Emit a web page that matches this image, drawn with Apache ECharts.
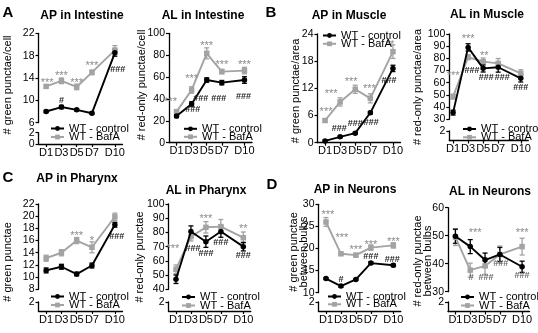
<!DOCTYPE html>
<html>
<head>
<meta charset="utf-8">
<script src="https://cdn.jsdelivr.net/npm/echarts@6/dist/echarts.min.js"></script>
<style>
  html, body { margin: 0; padding: 0; background: #fff; }
  #chart { width: 538px; height: 333px; }
</style>
</head>
<body>
<div id="chart"></div>
<script>
// sampling days and their tick labels
var days = [1, 3, 5, 7, 10];
var dayLabels = ['D1', 'D3', 'D5', 'D7', 'D10'];
var seriesNames = ['WT - control', 'WT - BafA'];

// A - AP in Intestine
var apIntCtrl = [8.0, 8.8, 8.3, 7.7, 18.5];
var apIntCtrlErr = [0.2, 0.3, 0.2, 0.2, 0.6];
var apIntBaf = [12.5, 13.5, 12.4, 15.0, 19.0];
var apIntBafErr = [0.3, 0.5, 0.5, 0.4, 0.8];
var apIntMarkB = ['***', '***', '***', '***', ''];
var apIntMarkC = ['', '#', '', '', '###'];

// A - AL in Intestine
var alIntCtrl = [24.4, 35.4, 57.3, 54.9, 57.3];
var alIntCtrlErr = [1.5, 2, 2, 2, 3];
var alIntBaf = [28.4, 48.2, 81.7, 65.0, 65.9];
var alIntBafErr = [1.5, 3, 5, 2, 3];
var alIntMarkB = ['***', '***', '***', '***', '***'];
var alIntMarkC = ['', '###', '###', '###', '###'];

// B - AP in Muscle
var apMusCtrl = [0.4, 1.3, 2.1, 6.6, 16.4];
var apMusCtrlErr = [0.2, 0.2, 0.2, 0.3, 0.7];
var apMusBaf = [4.9, 9.0, 11.8, 9.8, 20.1];
var apMusBafErr = [0.3, 0.9, 0.9, 1.0, 1.5];
var apMusMarkB = ['***', '***', '***', '***', '**'];
var apMusMarkC = ['', '###', '###', '###', '###'];

// B - AL in Muscle
var alMusCtrl = [35.5, 89.0, 71.8, 72.7, 63.6];
var alMusCtrlErr = [2, 3, 3, 4, 3];
var alMusBaf = [48.6, 80.9, 77.3, 75.9, 67.7];
var alMusBafErr = [2, 2, 3, 4, 3];
var alMusMarkB = ['***', '***', '**', '', ''];
var alMusMarkC = ['', '###', '###', '###', '###'];

// C - AP in Pharynx
var apPhCtrl = [11.1, 11.7, 10.5, 11.9, 18.6];
var apPhCtrlErr = [0.4, 0.4, 0.3, 0.4, 0.4];
var apPhBaf = [13.1, 14.0, 16.0, 14.9, 19.9];
var apPhBafErr = [0.5, 0.5, 0.5, 0.9, 0.6];
var apPhMarkB = ['', '', '***', '*', ''];
var apPhMarkC = ['', '', '', '', '###'];

// C - AL in Pharynx
var alPhCtrl = [47.1, 80.6, 73.5, 80.6, 70.0];
var alPhCtrlErr = [3, 4, 4, 4, 3];
var alPhBaf = [54.1, 77.0, 83.6, 84.1, 76.3];
var alPhBafErr = [3, 3, 4, 5, 4];
var alPhMarkB = ['***', '', '***', '', '**'];
var alPhMarkC = ['', '###', '###', '###', '###'];

// D - AP in Neurons
var apNeuCtrl = [13.2, 11.5, 13.0, 16.7, 16.2];
var apNeuCtrlErr = [0.2, 0.3, 0.2, 0.3, 0.3];
var apNeuBaf = [26.0, 18.8, 18.5, 20.2, 20.7];
var apNeuBafErr = [1.0, 0.3, 0.4, 0.6, 0.6];
var apNeuMarkB = ['***', '***', '***', '***', '***'];
var apNeuMarkC = ['', '#', '', '###', '###'];

// D - AL in Neurons
var alNeuCtrl = [49.8, 46.1, 41.3, 43.3, 38.9];
var alNeuCtrlErr = [2.5, 2.5, 2.5, 2.5, 2];
var alNeuBaf = [49.5, 37.7, 39.2, 43.3, 46.1];
var alNeuBafErr = [3, 2.5, 3, 3, 3];
var alNeuMarkB = ['', '#', '###', '###', '***'];
var alNeuMarkC = ['', '***', '', '', '###'];

var titles = ['AP in Intestine', 'AL in Intestine', 'AP in Muscle', 'AL in Muscle',
              'AP in Pharynx', 'AL in Pharynx', 'AP in Neurons', 'AL in Neurons'];
var yNames = ['# green punctae/cell', '# red-only punctae/cell', '# green punctae/area',
              '# red-only punctae/area', '# green punctae', '# red-only punctae',
              '# green punctae\nbetween bulbs', '# red-only punctae\nbetween bulbs'];
var letters = ['A', 'B', 'C', 'D'];

var FONT = "'Liberation Sans', Arial, sans-serif";
var GRAY = '#a3a3a3';
var STAR = '#8a8a8a';
var HASH = '#262626';

// legend: [icon left, centre y of first row, centre y of second row]
var panels = [
  { ctrl: apIntCtrl, ctrlErr: apIntCtrlErr, baf: apIntBaf, bafErr: apIntBafErr, markB: apIntMarkB, markC: apIntMarkC,
    grid: { left: 38.5, top: 33.3, width: 84, height: 89.4 }, lower: { top: 132.7, height: 11.3 },
    xMin: 0, yMin: 6, yMax: 22, yStep: 4, legend: [50, 127, 135.5], title: [82, 16], yName: [8, 85],
    offB: [[1, -3], [0, -5], [0, -4], [0, -6], [0, 0]], offC: [[0, 0], [0, -7], [0, 0], [0, 0], [3, 17]] },
  { ctrl: alIntCtrl, ctrlErr: alIntCtrlErr, baf: alIntBaf, bafErr: alIntBafErr, markB: alIntMarkB, markC: alIntMarkC,
    grid: { left: 169, top: 33.3, width: 83, height: 109.4 }, lower: null,
    xMin: 0, yMin: 0, yMax: 100, yStep: 20, legend: [183, 127.3, 135.3], title: [203, 16], yName: [142, 85],
    offB: [[-6, -10], [0, -11], [0, -7], [0, -7], [0, -6]], offC: [[0, 0], [1, 6], [-6, 19], [-3, 16], [-1, 17]] },
  { ctrl: apMusCtrl, ctrlErr: apMusCtrlErr, baf: apMusBaf, bafErr: apMusBafErr, markB: apMusMarkB, markC: apMusMarkC,
    grid: { left: 317.5, top: 34, width: 83, height: 108.7 }, lower: null,
    xMin: 0, yMin: 0, yMax: 24, yStep: 6, legend: [322, 34, 42.3], title: [349, 16], yName: [296, 91],
    offB: [[1, -9], [-9, -8], [-4, -7], [-1, -9], [-3, -7]], offC: [[0, 0], [-1, -8], [0, -10], [1, 10], [-4, 12]] },
  { ctrl: alMusCtrl, ctrlErr: alMusCtrlErr, baf: alMusBaf, bafErr: alMusBafErr, markB: alMusMarkB, markC: alMusMarkC,
    grid: { left: 449.3, top: 34, width: 79, height: 85.3 }, lower: { top: 131, height: 9.5 },
    xMin: 0.5, yMin: 30, yMax: 100, yStep: 10, legend: [462, 127.5, 135.8], title: [487, 15], yName: [418, 87],
    offB: [[0, -21], [0, -18], [1, -6], [0, 0], [0, 0]], offC: [[0, 0], [4, 23], [3, 9], [4, 10], [0, 9]] },
  { ctrl: apPhCtrl, ctrlErr: apPhCtrlErr, baf: apPhBaf, bafErr: apPhBafErr, markB: apPhMarkB, markC: apPhMarkC,
    grid: { left: 38.5, top: 204, width: 84, height: 85.3 }, lower: { top: 302, height: 9 },
    xMin: 0, yMin: 8, yMax: 22, yStep: 2, legend: [50, 295, 303.5], title: [77, 179], yName: [8, 262],
    offB: [[0, 0], [0, 0], [0, -5], [0, -6], [0, 0]], offC: [[0, 0], [0, 0], [0, 0], [0, 0], [2, 12]] },
  { ctrl: alPhCtrl, ctrlErr: alPhCtrlErr, baf: alPhBaf, bafErr: alPhBafErr, markB: alPhMarkB, markC: alPhMarkC,
    grid: { left: 168.5, top: 204, width: 82.3, height: 85.3 }, lower: { top: 302, height: 9 },
    xMin: 0, yMin: 40, yMax: 100, yStep: 10, legend: [181, 295.5, 304], title: [206, 191], yName: [140, 257],
    offB: [[-3, -20], [0, 0], [0, -8], [0, 0], [0, -9]], offC: [[0, 0], [2, 17], [0, 12], [0, 11], [0, 9]] },
  { ctrl: apNeuCtrl, ctrlErr: apNeuCtrlErr, baf: apNeuBaf, bafErr: apNeuBafErr, markB: apNeuMarkB, markC: apNeuMarkC,
    grid: { left: 318.5, top: 204.3, width: 82.3, height: 88.4 }, lower: { top: 302, height: 9 },
    xMin: 0, yMin: 10, yMax: 30, yStep: 5, legend: [327, 295, 302.8], title: [355, 190], yName: [299, 252],
    offB: [[2, -7], [1, -16], [0, -5], [0, -3], [0, -3]], offC: [[0, 0], [0, -7], [0, 0], [0, -7], [-1, -6]] },
  { ctrl: alNeuCtrl, ctrlErr: alNeuCtrlErr, baf: alNeuBaf, bafErr: alNeuBafErr, markB: alNeuMarkB, markC: alNeuMarkC,
    grid: { left: 448, top: 207.7, width: 81.5, height: 84 }, lower: { top: 302, height: 9.5 },
    xMin: 0, yMin: 30, yMax: 60, yStep: 10, legend: [460, 295.5, 304], title: [490, 192], yName: [423, 261],
    offB: [[0, 0], [1, 7], [1, 12], [1, 9], [0, -14]], offC: [[0, 0], [5, -14], [0, 0], [0, 0], [0, 9]],
    hashColor: '#6a6a6a' }
];
var letterPos = [[8, 12.5], [271, 13.3], [8, 177.5], [272, 185]];

function xAxisDef(gi, xMin, visible) {
  return {
    gridIndex: gi, type: 'value', min: xMin, max: 11, show: visible,
    axisLine: { lineStyle: { color: '#000', width: 1.3 } },
    axisTick: { customValues: days, length: 3, lineStyle: { color: '#000', width: 1.2 } },
    axisLabel: {
      customValues: days, margin: 3, color: '#000', fontSize: 11, fontFamily: FONT,
      formatter: function (v) { return dayLabels[days.indexOf(v)]; }
    },
    splitLine: { show: false }
  };
}

function yAxisDef(gi, min, max, step) {
  return {
    gridIndex: gi, type: 'value', min: min, max: max, interval: step,
    axisLine: { show: true, lineStyle: { color: '#000', width: 1.3 } },
    axisTick: { show: true, length: 3, lineStyle: { color: '#000', width: 1.2 } },
    axisLabel: { margin: 4, color: '#000', fontSize: 10.5, fontFamily: FONT },
    splitLine: { show: false }
  };
}

function pointData(values, marks, offs, hashColor) {
  return days.map(function (d, i) {
    var item = { value: [d, values[i]] };
    var t = marks[i];
    if (t) {
      var star = t.charAt(0) === '*';
      item.label = {
        show: true, position: 'inside', formatter: t, offset: offs[i],
        color: star ? STAR : (hashColor || HASH),
        fontSize: star ? 11 : 9, fontWeight: star ? 'normal' : 'bold', fontFamily: FONT
      };
    }
    return item;
  });
}

function errorSeries(gi, values, errs, color) {
  return {
    type: 'custom', xAxisIndex: gi, yAxisIndex: gi, silent: true, z: 1,
    data: days.map(function (d, i) { return [d, values[i], errs[i]]; }),
    renderItem: function (params, api) {
      var x = api.value(0), y = api.value(1), e = api.value(2);
      var a = api.coord([x, y + e]);
      var b = api.coord([x, y - e]);
      var w = 2.5;
      var st = { stroke: color, lineWidth: 1.3 };
      return {
        type: 'group',
        children: [
          { type: 'line', shape: { x1: a[0], y1: a[1], x2: b[0], y2: b[1] }, style: st },
          { type: 'line', shape: { x1: a[0] - w, y1: a[1], x2: a[0] + w, y2: a[1] }, style: st },
          { type: 'line', shape: { x1: b[0] - w, y1: b[1], x2: b[0] + w, y2: b[1] }, style: st }
        ]
      };
    }
  };
}

var grids = [], xAxes = [], yAxes = [], series = [], legends = [], graphics = [];

panels.forEach(function (p, k) {
  var gi = grids.length;
  grids.push({ left: p.grid.left, top: p.grid.top, width: p.grid.width, height: p.grid.height });
  xAxes.push(xAxisDef(gi, p.xMin, !p.lower));
  yAxes.push(yAxisDef(gi, p.yMin, p.yMax, p.yStep));
  if (p.lower) {
    grids.push({ left: p.grid.left, top: p.lower.top, width: p.grid.width, height: p.lower.height });
    xAxes.push(xAxisDef(gi + 1, p.xMin, true));
    yAxes.push(yAxisDef(gi + 1, 0, 2, 2));
  }

  series.push(errorSeries(gi, p.baf, p.bafErr, GRAY));
  series.push({
    type: 'line', name: seriesNames[1], xAxisIndex: gi, yAxisIndex: gi,
    data: pointData(p.baf, p.markB, p.offB, p.hashColor),
    symbol: 'rect', symbolSize: 5.5, itemStyle: { color: GRAY },
    lineStyle: { color: GRAY, width: 1.9 }, z: 2
  });
  series.push(errorSeries(gi, p.ctrl, p.ctrlErr, '#000'));
  series.push({
    type: 'line', name: seriesNames[0], xAxisIndex: gi, yAxisIndex: gi,
    data: pointData(p.ctrl, p.markC, p.offC, p.hashColor),
    symbol: 'circle', symbolSize: 5.5, itemStyle: { color: '#000' },
    lineStyle: { color: '#000', width: 1.9 }, z: 3
  });

  // one legend block per row so each row sits exactly where the figure has it
  seriesNames.forEach(function (nm, r) {
    legends.push({
      left: p.legend[0], top: p.legend[1 + r] - 4, orient: 'vertical', padding: 0,
      itemWidth: 13, itemHeight: 6, itemTextGap: 2, selectedMode: false,
      textStyle: { fontSize: 11, lineHeight: 8, color: '#000', fontFamily: FONT },
      data: [nm]
    });
  });

  graphics.push({
    type: 'text', x: p.title[0], y: p.title[1],
    style: { text: titles[k], font: 'bold 12px ' + FONT, fill: '#000', textAlign: 'center', textVerticalAlign: 'middle' }
  });
  graphics.push({
    type: 'text', x: p.yName[0], y: p.yName[1], rotation: Math.PI / 2,
    style: { text: yNames[k], font: '11px ' + FONT, fill: '#000', textAlign: 'center', textVerticalAlign: 'middle', lineHeight: 10 }
  });
});

letters.forEach(function (l, i) {
  graphics.push({
    type: 'text', x: letterPos[i][0], y: letterPos[i][1],
    style: { text: l, font: 'bold 15px ' + FONT, fill: '#000', textAlign: 'center', textVerticalAlign: 'middle' }
  });
});

var chart = echarts.init(document.getElementById('chart'));
chart.setOption({
  animation: false,
  backgroundColor: '#fff',
  grid: grids,
  xAxis: xAxes,
  yAxis: yAxes,
  legend: legends,
  series: series,
  graphic: graphics
});
</script>
</body>
</html>
